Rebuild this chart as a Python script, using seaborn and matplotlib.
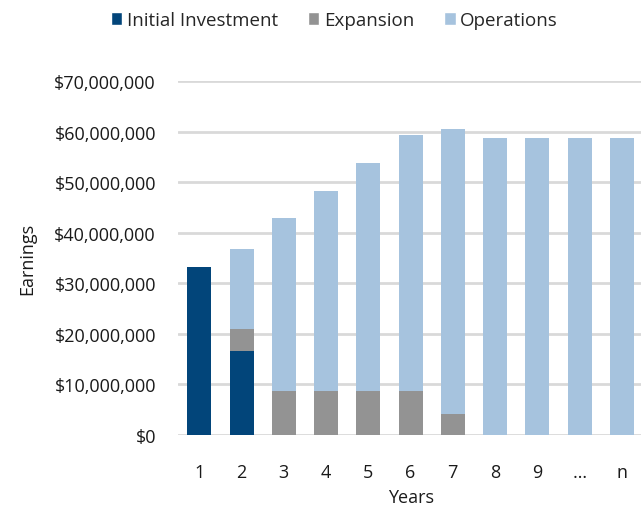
import numpy as np
import pandas as pd
import seaborn as sns
import matplotlib
import matplotlib.pyplot as plt
from matplotlib.patches import Patch
from matplotlib.ticker import FuncFormatter

matplotlib.use('Agg')

years = ['1', '2', '3', '4', '5', '6', '7', '8', '9', '\u2026', 'n']
initial = [33.3, 16.65, 0, 0, 0, 0, 0, 0, 0, 0, 0]
expansion = [0, 4.3, 8.65, 8.65, 8.65, 8.65, 4.2, 0, 0, 0, 0]
operations = [0, 15.75, 34.2, 39.65, 45.2, 50.65, 56.25, 58.7, 58.7, 58.7, 58.7]

series_names = ['Initial Investment', 'Expansion', 'Operations']
colors = ['#02457a', '#939393', '#a6c3de']

sns.set_style('white')
plt.rcParams['font.family'] = ['Open Sans', 'DejaVu Sans']

df = pd.DataFrame({'year': years,
                   'initial': np.array(initial) * 1e6,
                   'expansion': np.array(expansion) * 1e6,
                   'operations': np.array(operations) * 1e6})

fig = plt.figure(figsize=(6.41, 5.10), dpi=100)
ax = fig.add_axes([0.278, 0.145, 0.725, 0.694])

# stack the three layers
bottom = np.zeros(len(df))
for col, color in zip(['initial', 'expansion', 'operations'], colors):
    sns.barplot(data=df, x='year', y=col, color=color, saturation=1,
                width=0.57, bottom=bottom, ax=ax, linewidth=0)
    bottom = bottom + df[col].values

ax.set_ylim(0, 70e6)
ax.set_yticks(np.arange(0, 70e6 + 1, 10e6))
ax.yaxis.set_major_formatter(FuncFormatter(lambda v, p: f'${v:,.0f}'))
ax.grid(axis='y', color='#d9d9d9', linewidth=2)
ax.set_axisbelow(True)
for s in ax.spines.values():
    s.set_visible(False)
ax.tick_params(length=0, labelsize=13, colors='#1a1a1a')
ax.tick_params(axis='x', pad=20)
ax.tick_params(axis='y', pad=16)
ax.set_xlabel('Years', fontsize=13, color='#1a1a1a', labelpad=5)
ax.set_ylabel('Earnings', fontsize=13, color='#1a1a1a', labelpad=13)

handles = [Patch(facecolor=c, label=n) for c, n in zip(colors, series_names)]
fig.legend(handles=handles, loc='upper center', bbox_to_anchor=(0.522, 1.01),
           ncol=3, frameon=False, fontsize=13.5, handlelength=0.6,
           handleheight=0.7, handletextpad=0.25, columnspacing=1.6)

fig.savefig('out.png', dpi=100)
